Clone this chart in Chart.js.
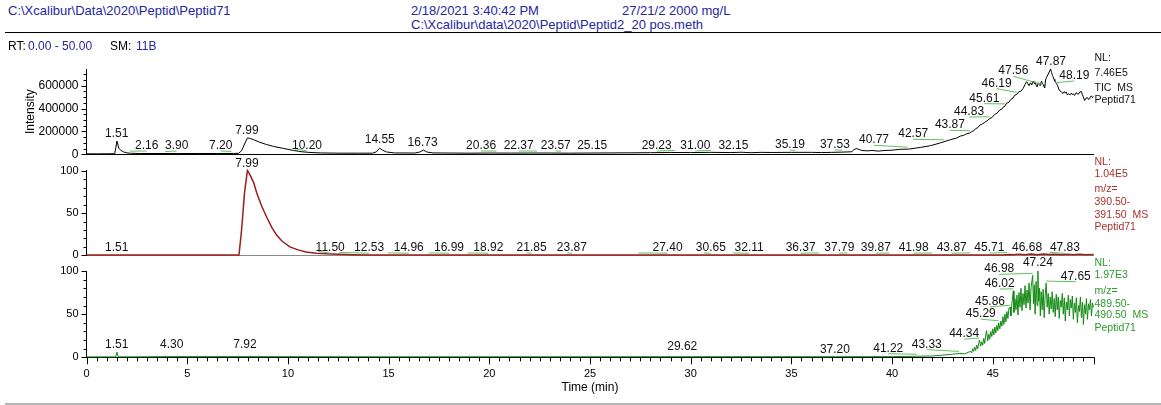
<!DOCTYPE html>
<html>
<head>
<meta charset="utf-8">
<script src="https://cdn.jsdelivr.net/npm/chart.js@4.4.1/dist/chart.umd.min.js"></script>
<style>
  body { margin: 0; width: 1161px; height: 405px; background: #fff; position: relative; overflow: hidden;
         font-family: "Liberation Sans", Arial, sans-serif; }
  .t { position: absolute; white-space: pre; font-size: 13px; line-height: 15px; color: #2626a2; z-index: 2; }
  .rt { font-size: 12px; line-height: 14px; }
  .k { color: #000; }
  .rule { position: absolute; left: 5px; right: 0; z-index: 1; }
  .box { position: absolute; left: 0; width: 1161px; }
</style>
</head>
<body>
<div class="rule" style="top:32px;height:1.3px;background:#000"></div>
<div class="rule" style="top:403px;height:1.5px;background:#b4b4b4"></div>
<div class="t" style="left:8px;top:3px">C:\Xcalibur\Data\2020\Peptid\Peptid71</div>
<div class="t" style="left:411px;top:3px">2/18/2021 3:40:42 PM</div>
<div class="t" style="left:622px;top:3px">27/21/2 2000 mg/L</div>
<div class="t" style="left:411px;top:16.5px">C:\Xcalibur\data\2020\Peptid\Peptid2_20 pos.meth</div>
<div class="t rt k" style="left:8px;top:39px">RT:</div>
<div class="t rt" style="left:28px;top:39px">0.00 - 50.00</div>
<div class="t rt k" style="left:110px;top:39px">SM:</div>
<div class="t rt" style="left:136px;top:39px">11B</div>

<div class="box" style="top:40px;height:130px"><canvas id="ticChart" width="1161" height="130"></canvas></div>
<div class="box" style="top:150px;height:120px"><canvas id="midChart" width="1161" height="120"></canvas></div>
<div class="box" style="top:250px;height:155px"><canvas id="botChart" width="1161" height="155"></canvas></div>

<script>
// TIC trace (time in min, intensity)
const ticTime = [
  0, 0.5, 1.0, 1.4, 1.46, 1.51, 1.55, 1.6, 1.7, 1.85,
  2.0, 2.2, 2.6, 3.5, 4.5, 5.5, 6.5, 7.3, 7.55, 7.7,
  7.85, 7.99, 8.1, 8.3, 8.6, 8.95, 9.3, 9.77, 10.27, 10.7,
  11.1, 11.6, 12.5, 13.5, 14.2, 14.4, 14.55, 14.7, 14.9, 15.3,
  16.3, 16.55, 16.73, 16.9, 17.2, 18, 19, 20, 21, 22,
  23, 24, 25, 26, 27, 28, 29, 30, 31, 32,
  32.5, 33, 33.5, 34, 35, 36, 36.5, 37, 37.5, 38,
  38.1, 38.25, 38.5, 38.8, 39, 39.3, 39.6, 40, 40.4, 40.8,
  41.4, 41.9, 42.4, 42.9, 43.2, 43.4, 43.55, 43.7, 43.85, 43.95,
  44.05, 44.15, 44.25, 44.36, 44.45, 44.6, 44.7, 44.86, 44.95, 45.1,
  45.2, 45.35, 45.45, 45.5, 45.6, 45.68, 45.8, 45.9, 46.0, 46.1,
  46.2, 46.3, 46.4, 46.51, 46.6, 46.68, 46.75, 46.8, 46.87, 46.93,
  47.0, 47.05, 47.09, 47.15, 47.2, 47.26, 47.3, 47.35, 47.42, 47.46,
  47.5, 47.54, 47.58, 47.62, 47.67, 47.75, 47.87, 47.92, 47.96, 47.99,
  48.04, 48.08, 48.16, 48.22, 48.3, 48.38, 48.44, 48.49, 48.55, 48.6,
  48.65, 48.7, 48.76, 48.82, 48.9, 48.95, 49.0, 49.06, 49.15, 49.2,
  49.25, 49.32, 49.4, 49.45, 49.5, 49.56, 49.62, 49.7, 49.75, 49.8,
  49.85, 49.9, 49.95, 50.0
];
const ticIntensity = [
  4000, 4000, 4500, 5000, 60000, 116000, 90000, 55000, 35000, 20000,
  13000, 9000, 7000, 7000, 6500, 7000, 7000, 7500, 9000, 30000,
  90000, 143000, 140000, 128000, 105000, 85000, 68000, 52000, 34000, 22000,
  16000, 12000, 10000, 10000, 10000, 22000, 53000, 36000, 20000, 12000,
  11000, 20000, 37000, 20000, 12000, 11000, 10000, 11000, 10500, 11000,
  11000, 10000, 11000, 12000, 13000, 14000, 16000, 15000, 17000, 15000,
  18000, 14000, 17000, 16000, 17000, 17000, 15000, 17000, 19000, 22000,
  42000, 50000, 33000, 30000, 34000, 28000, 33000, 36000, 44000, 45000,
  60000, 75000, 100000, 128000, 142000, 160000, 165000, 180000, 186000, 198000,
  205000, 225000, 232000, 256000, 262000, 280000, 290000, 315000, 320000, 350000,
  358000, 388000, 395000, 410000, 420000, 446000, 455000, 480000, 492000, 518000,
  525000, 548000, 552000, 577000, 610000, 635000, 615000, 600000, 625000, 606000,
  640000, 620000, 635000, 605000, 590000, 625000, 610000, 600000, 640000, 620000,
  610000, 595000, 580000, 650000, 674000, 700000, 746000, 715000, 690000, 680000,
  655000, 640000, 620000, 600000, 560000, 550000, 538000, 533000, 548000, 535000,
  545000, 520000, 530000, 518000, 535000, 522000, 530000, 515000, 540000, 528000,
  525000, 545000, 548000, 520000, 500000, 470000, 490000, 495000, 480000, 485000,
  505000, 510000, 495000, 505000
];

// m/z 390.50-391.50 (relative %)
const mz390Time = [
  0, 7.5, 7.57, 7.7, 7.85, 7.99, 8.1, 8.3, 8.45, 8.7,
  8.95, 9.2, 9.44, 9.7, 10.1, 10.5, 10.9, 11.4, 11.9, 12.5,
  13.2, 14, 20, 30, 40, 45.5, 45.8, 46.0, 46.3, 46.6,
  46.9, 47.2, 47.5, 47.8, 48.1, 48.4, 48.7, 49.0, 49.3, 49.6, 50
];
const mz390Pct = [
  0.4, 0.4, 0.5, 30, 75, 100, 96, 86, 74, 58,
  45, 33, 24, 17, 10, 6.5, 4, 2.6, 1.9, 1.3,
  0.8, 0.6, 0.5, 0.5, 0.5, 0.6, 1.2, 0.7, 1.5, 0.8,
  1.6, 0.9, 1.7, 1.0, 1.5, 0.8, 1.4, 0.9, 1.3, 0.8, 1.1
];

// m/z 489.50-490.50 (relative %)
const mz489Time = [
  0, 1.45, 1.51, 1.57, 4.3, 7.92, 15, 29.62, 37.2, 40,
  41.22, 42, 42.5, 43, 43.33, 43.6, 43.9, 43.95, 44.0, 44.05,
  44.1, 44.15, 44.2, 44.25, 44.3, 44.34, 44.4, 44.45, 44.5, 44.55,
  44.6, 44.65, 44.69, 44.75, 44.8, 44.85, 44.9, 44.95, 45.0, 45.05,
  45.1, 45.15, 45.2, 45.25, 45.29, 45.35, 45.4, 45.45, 45.5, 45.55,
  45.6, 45.65, 45.7, 45.75, 45.8, 45.86, 45.9, 45.95, 46.02, 46.05,
  46.1, 46.15, 46.2, 46.25, 46.3, 46.35, 46.4, 46.45, 46.5, 46.55,
  46.6, 46.65, 46.7, 46.75, 46.8, 46.85, 46.9, 46.98, 47.02, 47.06,
  47.1, 47.15, 47.2, 47.24, 47.28, 47.32, 47.36, 47.4, 47.45, 47.5,
  47.55, 47.6, 47.65, 47.7, 47.75, 47.8, 47.85, 47.9, 47.95, 48.0,
  48.05, 48.1, 48.15, 48.2, 48.25, 48.3, 48.35, 48.4, 48.45, 48.5,
  48.55, 48.6, 48.65, 48.7, 48.75, 48.8, 48.85, 48.9, 48.95, 49.0,
  49.05, 49.1, 49.15, 49.2, 49.25, 49.3, 49.35, 49.4, 49.45, 49.5,
  49.55, 49.6, 49.65, 49.7, 49.75, 49.8, 49.85, 49.9, 49.95, 50.0
];
const mz489Pct = [
  0.5, 0.5, 6, 0.5, 0.8, 0.8, 0.6, 0.7, 0.7, 0.8,
  1.2, 1.5, 2.5, 3.5, 4.5, 4, 7, 5, 10, 7,
  12, 8, 14, 10, 16, 20, 13, 18, 14, 22,
  16, 26, 31, 19, 27, 21, 30, 24, 33, 26,
  35, 28, 37, 31, 40, 33, 42, 36, 47, 38,
  50, 41, 53, 45, 57, 58, 48, 63, 77, 52,
  68, 55, 72, 49, 75, 58, 80, 54, 74, 61,
  83, 57, 78, 63, 86, 55, 81, 95, 62, 84,
  50, 88, 60, 100, 65, 80, 48, 76, 55, 79,
  46, 72, 86, 58, 74, 50, 70, 56, 76, 52,
  68, 47, 73, 55, 70, 45, 66, 58, 74, 50,
  69, 42, 64, 55, 72, 48, 67, 57, 71, 44,
  63, 52, 69, 40, 60, 53, 70, 46, 64, 38,
  61, 50, 68, 44, 62, 55, 67, 48, 63, 58
];

// axis ticks
const timeMajor = [0, 5, 10, 15, 20, 25, 30, 35, 40, 45];
const timeMinor = [];
for (let t = 0; t <= 50; t += 0.5) timeMinor.push(t);
const ticMajor = [0, 200000, 400000, 600000];
const ticMinor = [0, 50000, 100000, 150000, 200000, 250000, 300000, 350000, 400000, 450000, 500000, 550000, 600000, 650000, 700000];
const pctMajor = [0, 50, 100];
const pctMinor = [0, 10, 20, 30, 40, 50, 60, 70, 80, 90, 100];

// peak labels: [retention time, label centre (min), label baseline (y value)]
const ticLabels = [
  [1.51, 1.50, 148700], [2.16, 2.99, 46400], [3.90, 4.48, 46400], [7.20, 6.66, 46400],
  [7.99, 7.97, 177600], [10.20, 10.95, 46400], [14.55, 14.56, 96200], [16.73, 16.69, 72600],
  [20.36, 19.59, 46400], [22.37, 21.46, 46400], [23.57, 23.30, 46400], [25.15, 25.11, 46400],
  [29.23, 28.31, 46400], [31.00, 30.23, 46400], [32.15, 32.12, 46400], [35.19, 34.93, 55100],
  [37.53, 37.16, 55100], [40.77, 39.10, 96200], [42.57, 41.05, 148700], [43.87, 42.87, 227500],
  [44.83, 43.82, 343800], [45.61, 44.58, 460200], [46.19, 45.19, 591400], [47.56, 46.02, 699900],
  [47.87, 47.89, 781300], [48.19, 49.05, 658800]
];
const mz390Labels = [
  [1.51, 1.50, 5], [7.99, 7.97, 104.3], [11.50, 12.10, 5], [12.53, 14.03, 5],
  [14.96, 16.00, 5], [16.99, 18.00, 5], [18.92, 19.95, 5], [21.85, 22.10, 5],
  [23.87, 24.10, 5], [27.40, 28.85, 5], [30.65, 31.00, 5], [32.11, 32.90, 5],
  [36.37, 35.46, 5], [37.79, 37.38, 5], [39.87, 39.19, 5], [41.98, 41.07, 5],
  [43.87, 42.96, 5], [45.71, 44.83, 5], [46.68, 46.70, 5], [47.83, 48.58, 5]
];
const mz489Labels = [
  [1.51, 1.50, 10.5], [4.30, 4.23, 10.5], [7.92, 7.87, 10.5], [29.62, 29.58, 8],
  [37.20, 37.16, 5.5], [41.22, 39.81, 6.5], [43.33, 41.72, 11.2], [44.34, 43.58, 23.3],
  [45.29, 44.40, 46.5], [45.86, 44.86, 60.8], [46.02, 45.34, 81.4], [46.98, 45.32, 98.4],
  [47.24, 47.24, 105.3], [47.65, 49.12, 89.9]
];

const FONT = '"Liberation Sans", Arial, sans-serif';

function toPoints(xs, ys) {
  return xs.map((x, i) => ({ x: x, y: ys[i] }));
}

function valueAt(pts, t) {
  for (let i = 1; i < pts.length; i++) {
    if (pts[i].x >= t) {
      const a = pts[i - 1], b = pts[i];
      return a.y + (b.y - a.y) * (t - a.x) / (b.x - a.x);
    }
  }
  return pts[pts.length - 1].y;
}

// peak labels with green leader lines
const peakLabels = {
  id: 'peakLabels',
  afterDatasetsDraw(chart, args, opts) {
    const { ctx, scales: { x, y } } = chart;
    const pts = chart.data.datasets[0].data;
    ctx.save();
    ctx.font = '12px ' + FONT;
    ctx.textAlign = 'center';
    ctx.textBaseline = 'alphabetic';
    opts.items.forEach(([rt, tx, ty]) => {
      const px = x.getPixelForValue(rt);
      const py = y.getPixelForValue(valueAt(pts, rt)) - 2;
      const lx = x.getPixelForValue(tx);
      const ly = y.getPixelForValue(ty);
      if (Math.abs(px - lx) > 4) {
        ctx.strokeStyle = '#62c062';
        ctx.lineWidth = 1;
        ctx.beginPath();
        ctx.moveTo(lx, ly + 2);
        ctx.lineTo(px, py);
        ctx.stroke();
      }
      ctx.fillStyle = '#111';
      ctx.fillText(rt.toFixed(2), lx, ly);
    });
    ctx.restore();
  }
};

// major / minor tick marks
const tickMarks = {
  id: 'tickMarks',
  afterDraw(chart, args, opts) {
    const { ctx, chartArea, scales: { x, y } } = chart;
    ctx.save();
    ctx.strokeStyle = '#000';
    ctx.lineWidth = 1;
    ctx.beginPath();
    opts.yMinor.forEach(v => {
      const py = Math.round(y.getPixelForValue(v)) + 0.5;
      const len = opts.yMajor.includes(v) ? 5 : 3;
      ctx.moveTo(chartArea.left - len, py);
      ctx.lineTo(chartArea.left, py);
    });
    (opts.xMinor || []).forEach(v => {
      const px = Math.round(x.getPixelForValue(v)) + 0.5;
      const len = timeMajor.includes(v) || v === 50 ? 7 : 4;
      ctx.moveTo(px, chartArea.bottom);
      ctx.lineTo(px, chartArea.bottom + len);
    });
    ctx.stroke();
    ctx.restore();
  }
};

// NL / filter text on the right of each panel
const sideNotes = {
  id: 'sideNotes',
  afterDraw(chart, args, opts) {
    const { ctx, chartArea } = chart;
    ctx.save();
    ctx.font = '10.5px ' + FONT;
    ctx.fillStyle = opts.color;
    ctx.textAlign = 'left';
    ctx.textBaseline = 'alphabetic';
    opts.lines.forEach(([text, dy]) => {
      ctx.fillText(text, chartArea.right + 1, chartArea.top + dy);
    });
    ctx.restore();
  }
};

function panelOptions(cfg) {
  return {
    responsive: false,
    animation: false,
    devicePixelRatio: 1,
    events: [],
    layout: { padding: { left: 0, right: 1161 - 1093.5, top: cfg.padTop, bottom: cfg.padBottom } },
    scales: {
      x: {
        type: 'linear', min: 0, max: 50,
        afterBuildTicks: s => { s.ticks = timeMajor.map(v => ({ value: v })); },
        afterFit: s => { s.height = cfg.xHeight; },
        grid: { display: false, drawTicks: false, tickLength: 0 },
        border: { display: true, color: cfg.xBorder, width: 1 },
        ticks: {
          display: cfg.xLabels, padding: 10, color: '#000', maxRotation: 0, autoSkip: false,
          font: { family: FONT, size: 11 }, callback: v => String(v)
        },
        title: {
          display: cfg.xLabels, text: 'Time (min)', color: '#000',
          font: { family: FONT, size: 12 }, padding: { top: 0, bottom: 10 }
        }
      },
      y: {
        type: 'linear', min: 0, max: cfg.yMax,
        afterBuildTicks: s => { s.ticks = cfg.yMajor.map(v => ({ value: v })); },
        afterFit: s => { s.width = 86.5; },
        grid: { display: false, drawTicks: false, tickLength: 0 },
        border: { display: true, color: '#000', width: 1 },
        ticks: {
          padding: 8, color: '#000', autoSkip: false,
          font: { family: FONT, size: cfg.yFont }, callback: v => String(v)
        },
        title: {
          display: !!cfg.yTitle, text: cfg.yTitle || '', color: '#000',
          font: { family: FONT, size: 12 }, padding: { top: 23.3, bottom: 0 }
        }
      }
    },
    plugins: {
      legend: { display: false },
      tooltip: { enabled: false },
      peakLabels: { items: cfg.labels },
      tickMarks: { yMajor: cfg.yMajor, yMinor: cfg.yMinor, xMinor: cfg.xMinor },
      sideNotes: { color: cfg.noteColor, lines: cfg.notes }
    }
  };
}

function traceDataset(pts, color, width) {
  return {
    data: pts,
    borderColor: color,
    borderWidth: width,
    pointRadius: 0,
    tension: 0,
    fill: false,
    clip: false
  };
}

const ticChart = new Chart(document.getElementById('ticChart'), {
  type: 'line',
  data: { datasets: [traceDataset(toPoints(ticTime, ticIntensity), '#000', 1)] },
  options: panelOptions({
    padTop: 29, padBottom: 15.7, xHeight: 0, xLabels: false, xBorder: '#000',
    yMax: 746000, yMajor: ticMajor, yMinor: ticMinor, yFont: 12, yTitle: 'Intensity',
    labels: ticLabels, noteColor: '#111',
    notes: [['NL:', -8.3], ['7.46E5', 7], ['TIC  MS', 21.7], ['Peptid71', 34.3]]
  }),
  plugins: [peakLabels, tickMarks, sideNotes]
});

const midChart = new Chart(document.getElementById('midChart'), {
  type: 'line',
  data: { datasets: [traceDataset(toPoints(mz390Time, mz390Pct), '#9c1c1c', 1.5)] },
  options: panelOptions({
    padTop: 20.7, padBottom: 13.3, xHeight: 0, xLabels: false, xBorder: '#8a8a8a',
    yMax: 100, yMajor: pctMajor, yMinor: pctMinor, yFont: 11,
    labels: mz390Labels, noteColor: '#a8302c',
    notes: [['NL:', -5.7], ['1.04E5', 6.6], ['m/z=', 21], ['390.50-', 34.3], ['391.50  MS', 47.6], ['Peptid71', 59.3]]
  }),
  plugins: [peakLabels, tickMarks, sideNotes]
});

const botChart = new Chart(document.getElementById('botChart'), {
  type: 'line',
  data: { datasets: [traceDataset(toPoints(mz489Time, mz489Pct), '#128a12', 1)] },
  options: panelOptions({
    padTop: 21, padBottom: 0, xHeight: 47.7, xLabels: true, xBorder: '#000', xMinor: timeMinor,
    yMax: 100, yMajor: pctMajor, yMinor: pctMinor, yFont: 11,
    labels: mz489Labels, noteColor: '#2c9a2c',
    notes: [['NL:', -5], ['1.97E3', 7.3], ['m/z=', 23], ['489.50-', 35.7], ['490.50  MS', 47.3], ['Peptid71', 59.7]]
  }),
  plugins: [peakLabels, tickMarks, sideNotes]
});
</script>
</body>
</html>
